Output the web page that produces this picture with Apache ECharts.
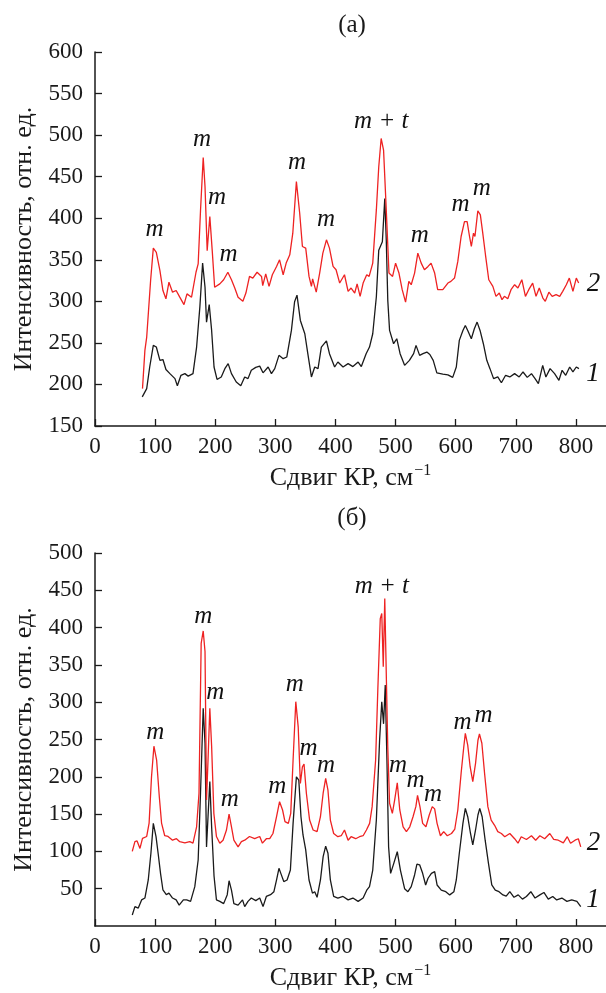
<!DOCTYPE html>
<html>
<head>
<meta charset="utf-8">
<script src="https://cdn.jsdelivr.net/npm/echarts@6/dist/echarts.min.js"></script>
<style>
  html, body { margin: 0; padding: 0; background: #fff; }
  #chart { width: 606px; height: 993px; }
</style>
</head>
<body>
<div id="chart"></div>
<script>
// (а) спектры: [сдвиг, интенсивность]
const topCurve1 = [[78.6,185],[86,195],[91,221],[97,247],[102,245],[108,229],[113,230],[118,218],[124.6,213],[133,207],[137,198.5],[143,211],[149.5,213],[155,210],[163,213],[169,245],[174.4,293],[179,346],[183,317],[185.5,275],[190,296],[194,265],[198,221],[203,206],[210,209],[216,219],[221.5,225],[227,213],[235,203],[242.5,198.5],[249,209],[254.5,207],[260,217],[267.4,220.5],[274,222],[279.5,214],[288,221],[293.5,213],[299,219],[306,235],[313,231],[319,233],[326.7,265],[332,299.5],[336,307.5],[341.6,277],[349,261],[354,237],[360,209],[365.5,221],[371,219],[376.5,245],[385,252.5],[390,237],[398.6,221],[404,227],[412.6,221],[421,225],[429,221.5],[437.7,227],[443,221.5],[451,237],[456.6,245],[462,261],[468,305.5],[472,361.6],[478,371.6],[482,423.7],[484.5,373.6],[487,301.5],[490,265],[496.7,249],[502,255],[507.5,237],[515,223],[523,229],[530,237],[534,247],[540,235],[545.6,237],[552,239],[557,236],[562.6,229],[568.6,214],[578.6,212.5],[587,211.5],[595,208.5],[601,221],[606,253],[612,265],[616,271],[620,265],[626,255],[631,267],[635.6,275],[640.5,265],[646,249],[651.7,229],[657,219],[663,207],[670,209],[676,202],[683,211],[690,209],[698,213],[705.6,209],[712,215],[719,208.5],[726,213],[732,207],[737.5,201],[744.7,223],[750,209],[757,219],[764.5,213],[771.7,205],[777,217],[783,211],[789.6,221],[795,215],[800.6,221],[805,219]];
const topCurve2 = [[79,195],[83,241],[86,257],[92.5,325],[97,364],[102,359],[108,337],[113,313],[118,303],[123,323],[129,311],[135,313],[141,305],[148,296],[153,309],[160.6,305],[168,335],[171.6,345],[175.5,409],[180,473],[183,438],[186.6,361],[191,402],[195,361],[199,317],[201.6,315],[207.6,321],[214,326],[221,335],[227,326],[232.5,316],[238,305],[240.5,307],[246,300],[251,310],[257,330],[262.5,328],[269.6,335],[277,330],[279,319],[284,333],[289.5,318],[295,332],[302,342],[307,350],[313,332],[318,346],[324,356],[329,382],[335,444],[340.5,406],[345,366],[350.5,364],[356,330],[360,318],[362,327],[368,311],[373.7,334],[379,358],[385,374],[390,364],[396,342],[401,338],[407,322],[415,332],[421,312],[426,316],[432,310],[436,321],[441,306],[446,322],[452,332],[456,330],[462,346],[468,410],[472,462],[476,496],[480,482],[484.5,410],[489,334],[495,330],[500,346],[505.6,334],[511,314],[516.6,299],[522,324],[526,320],[531.6,334],[537,358],[542.6,346],[548,338],[554,342],[559,346],[565,334],[570,314],[578.6,314],[587,322],[592,324],[598,328],[603.5,348],[609,378],[614.6,396],[619,396],[623,378],[626,366],[629.6,382],[632,378],[636.8,409],[641,404],[645,382],[649.5,356],[655,326],[661.8,318],[667,306],[672.5,310],[677,302],[681,306],[686.6,303],[692,314],[698,320],[703.5,316],[710,326],[716,306],[721.5,314],[728,322],[733.6,306],[739,316],[745,304],[749,300],[755,311],[760.5,306],[767,308],[773,306],[778,312],[784,320],[789,328],[795,312],[800.6,328],[804.5,322]];

// (б) спектры
const bottomCurve1 = [[62,14.7],[66.4,26],[72,24],[77.5,35],[83,37.5],[88.6,61.7],[93,97.5],[97,137.6],[101.5,119.7],[105,97.5],[109,70.6],[113,48.3],[118.6,42],[123,44],[129,37.5],[135,35],[140,28],[147,35],[152.5,35],[159,33],[166,52.7],[171.6,88.5],[175.5,178],[180,291.8],[183,245],[185.5,106],[188,146.5],[191,193.5],[194,133],[198,67],[202,35],[207.6,33],[214,30],[220,42],[223,60.7],[227,48],[231,30],[238,28],[245.4,35],[249,26],[254.5,33],[260,37.5],[267.4,34],[274,37.5],[279.5,26],[285,39.6],[292,42],[297.6,46],[302,61.7],[306,77.3],[310,68.5],[314,59.6],[319.5,61.7],[325,75],[329.5,137.6],[335,200],[339,195.6],[342.6,146.5],[346,122],[350.5,102],[356,61.7],[361.7,44],[365.5,46],[369.4,38.5],[375,61.7],[379.5,93],[383.7,107],[387.5,97.5],[391.5,61.7],[397,39.6],[404,37.5],[412.6,39.6],[421,35],[429,37.5],[437.7,33],[446,37.5],[452,48],[456.6,52.7],[462,75],[468,142],[473.4,249],[477,300.7],[480,271],[482.8,323],[485.6,222.5],[488.4,106],[491.7,70.6],[497,84],[502.8,99.6],[508,75],[515,50],[520.5,46],[526,52.7],[531.6,68.4],[535.5,83],[540,82],[545,70.6],[550,55],[554,64],[559.6,70.6],[565,72.8],[569,55],[576,48],[583.5,46],[590,41.7],[597,46],[601,61.7],[606,97.5],[612,137.6],[616,157.7],[620,146.5],[624.6,124],[628.4,108.6],[633,128.7],[637,148.8],[640,157.7],[644,146.5],[649,115],[654.5,84],[660,55],[665.8,48],[672,46],[678.6,41.7],[684,40],[690,46],[697,38.5],[704,41.7],[711,36],[717.6,39.6],[725,46],[732,37.5],[740,41.7],[746.7,45],[754,36],[761.4,39.6],[768,35],[776.6,37.5],[785,33],[793,35],[801.6,33],[808,26]];
const bottomCurve2 = [[62,100],[66.4,113],[70,114],[74.8,104],[79,117.5],[86,120],[90,138],[94,200],[98,241],[102.5,222.5],[107,173],[110.7,138],[116,121],[121.5,120],[129,115],[135.5,117],[141,113],[149.5,111.5],[157.6,113],[163,111],[169,133],[173,178],[176.6,379],[180,395.5],[183,368],[185.5,169],[188,222],[191,292],[194,241],[197.7,151],[202,120],[207.6,111],[213,115],[218.7,128.7],[223,150],[227,133],[231,115],[238,106],[243.5,113],[249,115],[257,120],[265.6,117],[274,120],[278.5,111],[285,117],[290.6,117],[296,124],[302,146.5],[307,166.6],[312,155.5],[316,140],[321.6,137.6],[325.6,151],[329.5,222.5],[334,300.7],[338,267],[341.6,191],[345,213.5],[347.7,217],[351.6,178],[357,142],[362.8,128.7],[369.4,126.5],[375,146.5],[379.5,178],[383.7,198],[387.5,182],[391.5,142],[397,124],[404,119.7],[409.6,121],[415,128.7],[421,115],[426,119.7],[433.6,117],[440,119.7],[446,121],[451.5,128.7],[456.8,137.6],[461,160],[466.8,222.5],[470.6,320.8],[474.5,412],[477,419],[479.5,347.6],[482,439],[484.6,334],[487,240],[490,164.5],[494.6,151],[498.5,169],[502.8,192],[507,155.5],[512.5,133],[518,126.5],[523.6,133],[529,146.5],[533.7,160],[536.5,175],[540.5,160],[545,137.6],[550.5,133],[556,148.8],[561,160],[565,157],[569,137.6],[574.6,121],[580,126.5],[586,121],[593,124],[598.5,130],[603.5,155.5],[609,204.7],[613.4,240],[616,258.3],[620,242.5],[624,213.5],[628.4,193.5],[633,218],[637,249],[639.5,257.4],[643.5,245],[648,204.7],[653.5,160],[659,142],[664.7,135],[670,126.5],[676,124],[681.6,119.7],[690,124],[698,117],[703.6,111],[709,119.7],[717.6,116],[726,121],[733,115],[740,121],[748,117],[756.5,124],[763,116],[770.6,115],[779,111.5],[785.6,119.7],[791,111],[798.5,115],[804,117],[808,106]];

// подписи пиков: [x, y, текст]
const topPeakLabels = [[100,386,'m'],[179,494,'m'],[204,424,'m'],[223,356,'m'],[337,466,'m'],[385,398,'m'],[477,516,'m+t'],[541,379,'m'],[609,416,'m'],[644,435,'m']];
const bottomPeakLabels = [[101,259,'m'],[181,414,'m'],[201,312,'m'],[225,169,'m'],[304,187,'m'],[333,323,'m'],[356,238,'m'],[385,215,'m'],[478,455,'m+t'],[505,215,'m'],[534,195,'m'],[563,176,'m'],[612,272,'m'],[647,281,'m']];
const topCurveNums = [[830,320,'2'],[829,212,'1']];
const bottomCurveNums = [[830,111,'2'],[829,34,'1']];

const xTicks = [0, 100, 200, 300, 400, 500, 600, 700, 800];
const panelTitles = ['(а)', '(б)'];
const xName = 'Сдвиг КР, см';
const yName = 'Интенсивность, отн. ед.';

const FONT = '"Liberation Serif", "DejaVu Serif", serif';
const INK = '#1a1a1a';
const RED = '#ee2222';

const chart = echarts.init(document.getElementById('chart'));

const makeX = (gridIndex) => ({
  type: 'value',
  gridIndex,
  min: 0,
  max: 850,
  interval: 100,
  name: '{n|' + xName + '}{s|−1}',
  nameLocation: 'middle',
  nameGap: 37,
  nameTextStyle: {
    rich: {
      n: { fontFamily: FONT, fontSize: 26, color: INK },
      s: { fontFamily: FONT, fontSize: 16, color: INK, verticalAlign: 'top', padding: [0, 0, 14, 1] }
    }
  },
  axisLine: { lineStyle: { color: INK, width: 1.5 } },
  axisTick: { inside: true, length: 7, lineStyle: { color: INK, width: 1.3 }, customValues: xTicks },
  axisLabel: {
    color: INK, fontFamily: FONT, fontSize: 23, margin: 9,
    customValues: xTicks
  },
  splitLine: { show: false }
});

const makeY = (gridIndex, min, max, showMin) => ({
  type: 'value',
  gridIndex,
  min, max,
  interval: 50,
  name: yName,
  nameLocation: 'middle',
  nameGap: 55,
  nameTextStyle: { fontFamily: FONT, fontSize: 26, color: INK },
  axisLine: { lineStyle: { color: INK, width: 1.5 } },
  axisTick: { inside: true, length: 7, lineStyle: { color: INK, width: 1.3 } },
  axisLabel: { color: INK, fontFamily: FONT, fontSize: 23, margin: 12, showMinLabel: showMin },
  splitLine: { show: false }
});

const lineSeries = (data, color, idx) => ({
  type: 'line',
  xAxisIndex: idx,
  yAxisIndex: idx,
  data,
  showSymbol: false,
  symbol: 'none',
  smooth: false,
  lineStyle: { color, width: 1.3 },
  silent: true
});

// подписи как текст в координатах данных
const labelSeries = (items, idx, size) => ({
  type: 'scatter',
  xAxisIndex: idx,
  yAxisIndex: idx,
  symbolSize: 1,
  itemStyle: { color: '#ffffff', opacity: 1 },
  z: 5,
  silent: true,
  data: items.map(d => ({ value: [d[0], d[1]], name: d[2] })),
  label: {
    show: true,
    position: [0, 0],
    align: 'center',
    verticalAlign: 'middle',
    color: '#111',
    opacity: 1,
    textBorderWidth: 0,
    fontFamily: FONT,
    fontSize: size,
    fontStyle: 'italic',
    formatter: (p) => p.name === 'm+t' ? '{i|m} {u|+} {i|t}' : '{i|' + p.name + '}',
    rich: {
      i: { fontFamily: FONT, fontSize: size, fontStyle: 'italic', color: '#111' },
      u: { fontFamily: FONT, fontSize: size, color: '#111' }
    }
  }
});

chart.setOption({
  animation: false,
  backgroundColor: '#fff',
  grid: [
    { left: 95, right: 0, top: 52, height: 374 },
    { left: 95, right: 0, top: 553, height: 373 }
  ],
  xAxis: [makeX(0), makeX(1)],
  yAxis: [makeY(0, 150, 600, true), makeY(1, 0, 500, false)],
  graphic: [
    { type: 'text', x: 352, y: 25, style: { text: panelTitles[0], font: '25px ' + FONT, fill: INK, textAlign: 'center', textVerticalAlign: 'middle' } },
    { type: 'text', x: 352, y: 518, style: { text: panelTitles[1], font: '25px ' + FONT, fill: INK, textAlign: 'center', textVerticalAlign: 'middle' } }
  ],
  series: [
    lineSeries(topCurve1, INK, 0),
    lineSeries(topCurve2, RED, 0),
    lineSeries(bottomCurve1, INK, 1),
    lineSeries(bottomCurve2, RED, 1),
    labelSeries(topPeakLabels, 0, 25),
    labelSeries(bottomPeakLabels, 1, 25),
    labelSeries(topCurveNums, 0, 27),
    labelSeries(bottomCurveNums, 1, 27)
  ]
});
</script>
</body>
</html>
